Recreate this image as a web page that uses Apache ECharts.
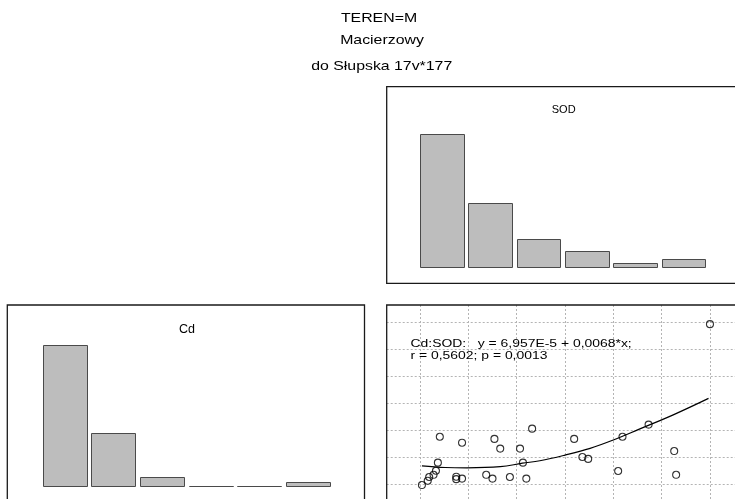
<!DOCTYPE html>
<html><head><meta charset="utf-8">
<script src="https://cdn.jsdelivr.net/npm/echarts@6/dist/echarts.min.js"></script>
<style>html,body{margin:0;padding:0;background:#fff}#c{width:735px;height:499px}</style>
</head><body><div id="c"></div>
<script>
// ---- data ----
const titleLines = ['TEREN=M', 'Macierzowy', 'do Słupska 17v*177'];
const varNames = ['SOD', 'Cd'];
const sodBins = [0, 1, 2, 3, 4, 5];
const sodFreq = [32.1, 15.6, 6.8, 3.9, 1.1, 2.0];
const cdBins = [0, 1, 2, 3, 4, 5];
const cdFreq = [32, 12, 2, 0, 0, 1];
const scatterSOD = [6.00, 0.41, 0.87, 1.54, 1.66, 2.32, 2.07, 3.19, 4.19, 4.73, 5.26, 3.36, 3.48, 2.13, 4.10, 5.30, 0.37, 0.33, 0.28, 0.19, 0.16, 0.04, 0.75, 0.75, 0.87, 1.37, 1.50, 1.86, 2.20];
const scatterCd  = [6.92, 2.75, 2.53, 2.67, 2.31, 3.05, 2.31, 2.67, 2.75, 3.20, 2.22, 2.00, 1.93, 1.79, 1.48, 1.34, 1.79, 1.49, 1.34, 1.26, 1.12, 0.96, 1.27, 1.18, 1.20, 1.34, 1.20, 1.26, 1.20];
const fitSOD = [0.04, 0.52, 0.97, 1.66, 2.12, 2.48, 3.00, 3.52, 4.00, 4.55, 5.24, 5.97];
const fitCd  = [1.67, 1.61, 1.60, 1.64, 1.77, 1.86, 2.07, 2.32, 2.63, 3.04, 3.56, 4.17];
const fitText = ['Cd:SOD:   y = 6,957E-5 + 0,0068*x;', 'r = 0,5602; p = 0,0013'];

// ---- chart ----
const FONT = '"Liberation Sans", Arial, sans-serif';
const chart = echarts.init(document.getElementById('c'), null, {renderer: 'canvas'});

const hidden = {
  axisLine: {show: false}, axisTick: {show: false},
  axisLabel: {show: false}, splitLine: {show: false}
};
const dotted = {show: true, showMinLine: false, showMaxLine: false,
  lineStyle: {color: '#b4b4b4', type: [2, 2], width: 1}};

function histItem(params, api) {
  const x0 = api.value(0), h = api.value(1);
  const p0 = api.coord([x0, 0]);
  const p1 = api.coord([x0 + 1, h]);
  const gap = 4.5;
  const left = Math.round(p0[0]) + 0.5;
  const right = Math.round(p1[0] - gap) + 0.5;
  const bottom = Math.round(p0[1]) + 0.5;
  const top = Math.round(p1[1]) + 0.5;
  return {
    type: 'rect',
    shape: {x: left, y: top, width: right - left, height: bottom - top},
    style: {fill: '#bdbdbd', stroke: '#4a4a4a', lineWidth: 1}
  };
}

function textEl(txt, x, y, size, sx, align) {
  return {
    type: 'text', x: x, y: y, scaleX: sx, z: 50,
    style: {text: txt, fontSize: size, fontFamily: FONT, fill: '#000',
      align: align, verticalAlign: 'middle'}
  };
}
function panel(x, y, w, h) {
  return {type: 'rect', z: 100, shape: {x: x, y: y, width: w, height: h},
    style: {fill: 'none', stroke: '#1a1a1a', lineWidth: 1.3}};
}

const option = {
  animation: false,
  backgroundColor: '#fff',
  grid: [
    {left: 386.7, top: 101.3, width: 348.3, height: 166, outerBoundsMode: 'none'},   // SOD histogram
    {left: 42.7, top: 310, width: 291.6, height: 176, outerBoundsMode: 'none'},      // Cd histogram
    {left: 386.7, top: 305, width: 348.3, height: 194, outerBoundsMode: 'none'}      // Cd vs SOD scatter
  ],
  xAxis: [
    Object.assign({type: 'value', gridIndex: 0, min: -0.689, max: 6.518}, hidden),
    Object.assign({type: 'value', gridIndex: 1, min: 0, max: 6}, hidden),
    {type: 'value', gridIndex: 2, min: -0.689, max: 6.518, splitNumber: 7,
      minInterval: 1, maxInterval: 1,
      axisLine: {show: false}, axisTick: {show: false}, axisLabel: {show: false},
      splitLine: dotted}
  ],
  yAxis: [
    Object.assign({type: 'value', gridIndex: 0, min: 0, max: 40}, hidden),
    Object.assign({type: 'value', gridIndex: 1, min: 0, max: 40}, hidden),
    {type: 'value', gridIndex: 2, min: 0.444, max: 7.63, splitNumber: 7,
      minInterval: 1, maxInterval: 1,
      axisLine: {show: false}, axisTick: {show: false}, axisLabel: {show: false},
      splitLine: dotted}
  ],
  series: [
    {type: 'custom', xAxisIndex: 0, yAxisIndex: 0, renderItem: histItem,
      data: sodBins.map((b, i) => [b, sodFreq[i]]), silent: true},
    {type: 'custom', xAxisIndex: 1, yAxisIndex: 1, renderItem: histItem,
      data: cdBins.map((b, i) => [b, cdFreq[i]]), silent: true},
    {type: 'line', xAxisIndex: 2, yAxisIndex: 2, smooth: 0.4, showSymbol: false,
      symbol: 'none', lineStyle: {color: '#000', width: 1.2}, silent: true,
      data: fitSOD.map((x, i) => [x, fitCd[i]])},
    {type: 'scatter', xAxisIndex: 2, yAxisIndex: 2, symbol: 'circle', symbolSize: 7,
      itemStyle: {color: 'rgba(0,0,0,0)', borderColor: '#000', borderWidth: 1.1},
      silent: true, z: 5,
      data: scatterSOD.map((x, i) => [x, scatterCd[i]])}
  ],
  graphic: [
    textEl(titleLines[0], 379, 18, 13, 1.22, 'center'),
    textEl(titleLines[1], 382, 40, 13, 1.22, 'center'),
    textEl(titleLines[2], 381.7, 66.5, 13, 1.22, 'center'),
    textEl(varNames[0], 563.7, 110.3, 11, 1.0, 'center'),
    textEl(varNames[1], 187, 329.5, 12.5, 1.0, 'center'),
    textEl(fitText[0], 410.5, 343.8, 11.5, 1.21, 'left'),
    textEl(fitText[1], 410.5, 355.9, 11.5, 1.21, 'left'),
    panel(386.7, 86.7, 500, 196.6),
    panel(7.3, 305, 357.2, 300),
    panel(386.7, 305, 500, 300)
  ]
};
chart.setOption(option);
</script>
</body></html>
